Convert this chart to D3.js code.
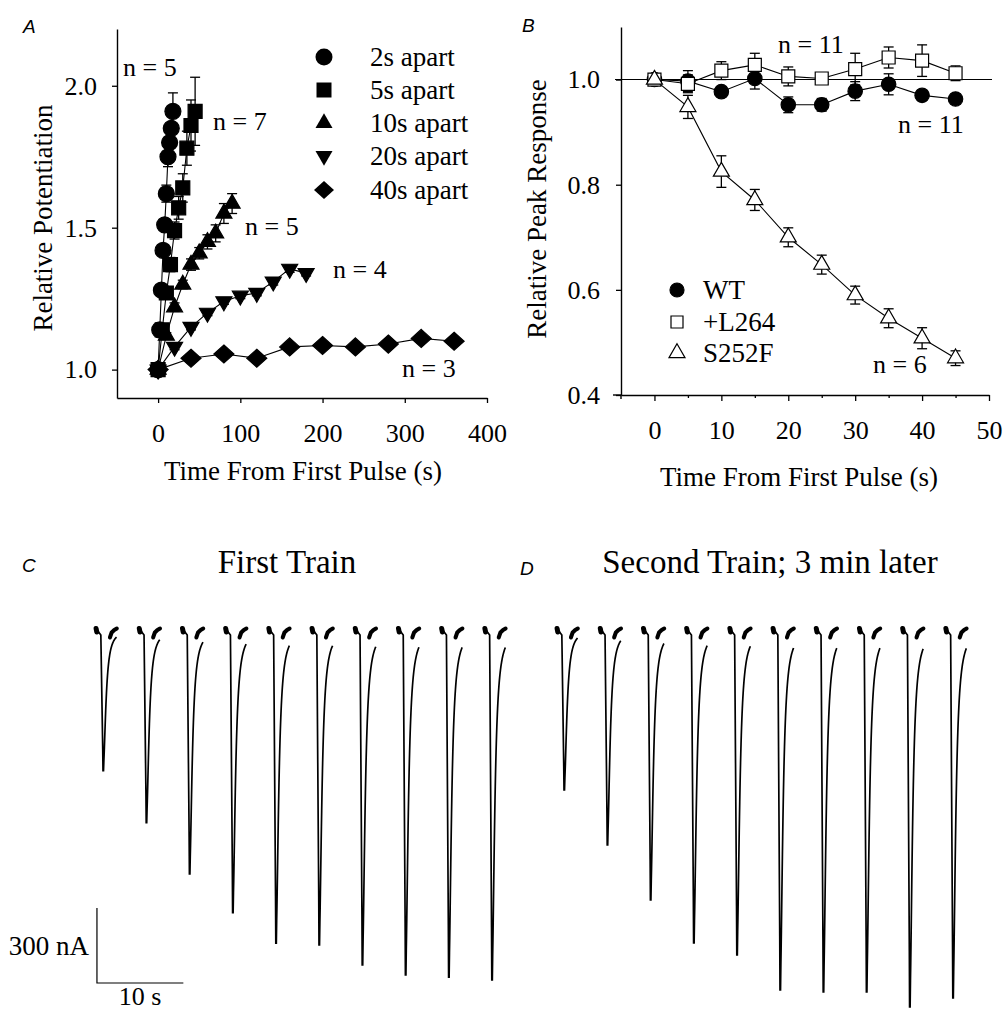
<!DOCTYPE html>
<html><head><meta charset="utf-8">
<script src="https://cdn.jsdelivr.net/npm/d3@7"></script>
<style>
html,body{margin:0;padding:0;background:#fff;}
svg{display:block;}
text{font-family:"Liberation Serif","Times New Roman",serif;fill:#000;}
text.lett{font-family:"Liberation Sans",Arial,sans-serif;font-style:italic;}
</style></head><body>
<svg id="fig" width="1003" height="1011"></svg>
<script>
// ---------------- DATA ----------------
// Panel A: relative potentiation vs time from first pulse
const aLabels = ["2s apart", "5s apart", "10s apart", "20s apart", "40s apart"];
const a2Time  = [0, 2, 4, 6, 8, 10, 12, 14, 16, 18];
const a2Val   = [1.0, 1.14, 1.28, 1.42, 1.51, 1.62, 1.75, 1.80, 1.85, 1.91];
const a2Err   = [0, 0.01, 0.015, 0.02, 0.02, 0.03, 0.035, 0.04, 0.045, 0.065];
const a5Time  = [0, 5, 10, 15, 20, 25, 30, 35, 40, 45];
const a5Val   = [1.0, 1.14, 1.27, 1.37, 1.49, 1.57, 1.64, 1.78, 1.86, 1.91];
const a5Err   = [0, 0.015, 0.02, 0.025, 0.03, 0.04, 0.05, 0.06, 0.09, 0.12];
const a10Time = [0, 10, 20, 30, 40, 50, 60, 70, 80, 90];
const a10Val  = [1.0, 1.12, 1.22, 1.30, 1.37, 1.41, 1.45, 1.48, 1.55, 1.585];
const a10Err  = [0, 0.01, 0.015, 0.015, 0.02, 0.02, 0.025, 0.03, 0.035, 0.035];
const a20Time = [0, 20, 40, 60, 80, 100, 120, 140, 160, 180];
const a20Val  = [1.0, 1.08, 1.15, 1.20, 1.24, 1.26, 1.27, 1.31, 1.355, 1.34];
const a20Err  = [0, 0.01, 0.01, 0.01, 0.01, 0.01, 0.01, 0.012, 0.012, 0.01];
const a40Time = [0, 40, 80, 120, 160, 200, 240, 280, 320, 360];
const a40Val  = [1.0, 1.04, 1.055, 1.04, 1.08, 1.085, 1.08, 1.09, 1.11, 1.10];
const a40Err  = [0, 0.005, 0.005, 0.005, 0.006, 0.006, 0.006, 0.006, 0.007, 0.006];
const aNLabels = ["n = 5", "n = 7", "n = 5", "n = 4", "n = 3"];
const aXTicks = [0, 100, 200, 300, 400];
const aYTicks = [1.0, 1.5, 2.0];

// Panel B: relative peak response
const bLabels = ["WT", "+L264", "S252F"];
const bTime   = [0, 5, 10, 15, 20, 25, 30, 35, 40, 45];
const bWT     = [1.0, 0.997, 0.977, 1.002, 0.952, 0.952, 0.978, 0.991, 0.970, 0.963];
const bWTErr  = [0, 0.02, 0.01, 0.02, 0.015, 0.012, 0.018, 0.02, 0.01, 0.01];
const bL264   = [1.0, 0.992, 1.017, 1.028, 1.006, 1.002, 1.02, 1.042, 1.036, 1.012];
const bL264Err= [0, 0.017, 0.017, 0.022, 0.018, 0.01, 0.03, 0.02, 0.03, 0.014];
const bS252F  = [1.0, 0.948, 0.825, 0.771, 0.700, 0.648, 0.590, 0.546, 0.508, 0.470];
const bS252FErr=[0, 0.022, 0.03, 0.02, 0.018, 0.018, 0.017, 0.018, 0.02, 0.014];
const bNLabels = ["n = 11", "n = 11", "n = 6"];
const bXTicks = [0, 5, 10, 15, 20, 25, 30, 35, 40, 45, 50];
const bYTicks = [0.4, 0.6, 0.8, 1.0];

// Panels C, D: current traces (peak inward current, nA) of pulses 5 s apart
const trainTitles = ["First Train", "Second Train; 3 min later"];
const pulseTime  = [0, 5, 10, 15, 20, 25, 30, 35, 40, 45];
const train1Peak = [563, 771, 976, 1131, 1253, 1260, 1340, 1380, 1389, 1400];
const train2Peak = [640, 860, 1080, 1252, 1300, 1440, 1448, 1448, 1508, 1472];
const scaleBarCurrent = 300; // nA
const scaleBarTime = 10;     // s

// ---------------- DRAWING ----------------
const svg = d3.select("#fig");
svg.append("rect").attr("width", 1003).attr("height", 1011).attr("fill", "#fff");

function text(g, x, y, s, size, anchor, extra) {
  const t = g.append("text").attr("x", x).attr("y", y).attr("font-size", size)
    .attr("text-anchor", anchor || "start").text(s);
  if (extra) extra(t);
  return t;
}
function letter(x, y, s) {
  svg.append("text").attr("class", "lett").attr("x", x).attr("y", y).attr("font-size", 19).text(s);
}

// symbol paths
const sym = {
  circle: r => d3.symbol(d3.symbolCircle, Math.PI * r * r)(),
  square: s => d3.symbol(d3.symbolSquare, s * s)(),
  triUp: s => { const h = s * Math.sqrt(3) / 2; return `M0,${-2*h/3}L${s/2},${h/3}L${-s/2},${h/3}Z`; },
  triDown: s => { const h = s * Math.sqrt(3) / 2; return `M0,${2*h/3}L${s/2},${-h/3}L${-s/2},${-h/3}Z`; },
  diamond: (w, h) => `M0,${-h/2}L${w/2},0L0,${h/2}L${-w/2},0Z`
};

function styleAxis(g, size) {
  g.attr("font-size", size);
  g.selectAll("path.domain").attr("stroke", "#000").attr("stroke-width", 1.4);
  g.selectAll(".tick line").attr("stroke", "#000").attr("stroke-width", 1.3);
  g.selectAll(".tick text").attr("fill", "#000");
}

function drawSeries(g, x, y, times, vals, errs, path, fill, capW) {
  const pts = times.map((t, i) => ({ t, v: vals[i], e: errs[i] }));
  g.append("path").datum(pts).attr("fill", "none").attr("stroke", "#000").attr("stroke-width", 1.1)
    .attr("d", d3.line().x(d => x(d.t)).y(d => y(d.v)));
  const eb = g.append("g").attr("stroke", "#000").attr("stroke-width", 1.3);
  pts.filter(d => d.e > 0).forEach(d => {
    eb.append("line").attr("x1", x(d.t)).attr("x2", x(d.t)).attr("y1", y(d.v - d.e)).attr("y2", y(d.v + d.e));
    [d.v - d.e, d.v + d.e].forEach(v => eb.append("line").attr("x1", x(d.t) - capW / 2).attr("x2", x(d.t) + capW / 2)
      .attr("y1", y(v)).attr("y2", y(v)));
  });
  g.selectAll(null).data(pts).enter().append("path")
    .attr("transform", d => `translate(${x(d.t)},${y(d.v)})`)
    .attr("d", path).attr("fill", fill).attr("stroke", "#000").attr("stroke-width", 1.2);
}

// ---------- Panel A ----------
{
  const g = svg.append("g");
  const x = d3.scaleLinear().domain([-50, 400]).range([117, 487]);
  const y = d3.scaleLinear().domain([0.9, 2.2]).range([398, 29]);
  const xa = g.append("g").attr("transform", "translate(0,398)")
    .call(d3.axisBottom(x).tickValues(aXTicks).tickSize(5).tickSizeOuter(0).tickPadding(21));
  styleAxis(xa, 26);
  const ya = g.append("g").attr("transform", "translate(117,0)")
    .call(d3.axisLeft(y).tickValues(aYTicks).tickFormat(d3.format(".1f")).tickSize(5).tickSizeOuter(0).tickPadding(15));
  styleAxis(ya, 26);
  text(g, 303, 480, "Time From First Pulse (s)", 27, "middle");
  text(g, 0, 0, "Relative Potentiation", 27, "middle", t => t.attr("transform", "translate(52,218) rotate(-90)"));

  drawSeries(g, x, y, a40Time, a40Val, a40Err, sym.diamond(20, 18), "#000", 10);
  drawSeries(g, x, y, a20Time, a20Val, a20Err, sym.triDown(16), "#000", 10);
  drawSeries(g, x, y, a10Time, a10Val, a10Err, sym.triUp(16), "#000", 10);
  drawSeries(g, x, y, a5Time, a5Val, a5Err, sym.square(14), "#000", 10);
  drawSeries(g, x, y, a2Time, a2Val, a2Err, sym.circle(8), "#000", 10);

  // n labels
  const nPos = [[123, 76], [213, 130], [245, 235], [333, 278], [402, 377]];
  aNLabels.forEach((s, i) => text(g, nPos[i][0], nPos[i][1], s, 26));

  // legend
  const legPaths = [sym.circle(8.5), sym.square(15), sym.triUp(17), sym.triDown(17), sym.diamond(20, 18)];
  const legY = [57, 90, 123, 156, 190];
  aLabels.forEach((s, i) => {
    g.append("path").attr("transform", `translate(324,${legY[i]})`).attr("d", legPaths[i]).attr("fill", "#000");
    text(g, 370, legY[i] + 9, s, 27);
  });
  letter(23, 33, "A");
}

// ---------- Panel B ----------
{
  const g = svg.append("g");
  const x = d3.scaleLinear().domain([-5, 50]).range([621, 989]);
  const y = d3.scaleLinear().domain([0.4, 1.1]).range([395, 27]);
  g.append("line").attr("x1", 613).attr("x2", 621).attr("y1", 395).attr("y2", 395).attr("stroke", "#000").attr("stroke-width", 1.4);
  g.append("line").attr("x1", 621).attr("x2", 621).attr("y1", 395).attr("y2", 399).attr("stroke", "#000").attr("stroke-width", 1.4);
  const xa = g.append("g").attr("transform", "translate(0,395)")
    .call(d3.axisBottom(x).tickValues(bXTicks).tickFormat(d => d % 10 === 0 ? d : "").tickSize(6).tickSizeOuter(0).tickPadding(20));
  styleAxis(xa, 26);
  xa.selectAll(".tick").filter(d => d % 10 !== 0).select("line").attr("y2", 3);
  const ya = g.append("g").attr("transform", "translate(621,0)")
    .call(d3.axisLeft(y).tickValues(bYTicks).tickFormat(d3.format(".1f")).tickSize(5).tickSizeOuter(0).tickPadding(16));
  styleAxis(ya, 26);
  text(g, 799, 486, "Time From First Pulse (s)", 27, "middle");
  text(g, 0, 0, "Relative Peak Response", 27, "middle", t => t.attr("transform", "translate(546,209) rotate(-90)"));

  g.append("line").attr("x1", x(-5) - 6).attr("x2", x(50) + 3).attr("y1", y(1)).attr("y2", y(1))
    .attr("stroke", "#000").attr("stroke-width", 1.1);

  drawSeries(g, x, y, bTime, bWT, bWTErr, sym.circle(7.2), "#000", 10);
  drawSeries(g, x, y, bTime, bL264, bL264Err, sym.square(13), "#fff", 10);
  drawSeries(g, x, y, bTime, bS252F, bS252FErr, sym.triUp(16), "#fff", 10);

  const nPos = [[778, 53], [898, 133], [873, 373]];
  bNLabels.forEach((s, i) => text(g, nPos[i][0], nPos[i][1], s, 26));

  const legPaths = [[sym.circle(7), "#000"], [sym.square(12), "#fff"], [sym.triUp(16), "#fff"]];
  const legY = [290, 322, 353];
  bLabels.forEach((s, i) => {
    g.append("path").attr("transform", `translate(677,${legY[i]})`).attr("d", legPaths[i][0])
      .attr("fill", legPaths[i][1]).attr("stroke", "#000").attr("stroke-width", 1.2);
    text(g, 703, legY[i] + 9, s, 27);
  });
  letter(522, 32, "B");
}

// ---------- Panels C & D: traces ----------
function drawTrain(x0, peaks, title, titleX, withScale) {
  const g = svg.append("g");
  const x = d3.scaleLinear().domain([0, 10]).range([x0, x0 + 86.4]);     // s -> px
  const y = d3.scaleLinear().domain([0, -300]).range([630, 705]);        // nA -> px
  const line = d3.line().x(d => x(d[0])).y(d => y(d[1]));
  pulseTime.forEach((t0, i) => {
    const A = peaks[i];
    // pre-pulse baseline blob
    g.append("path").attr("d", line([[t0 - 0.8, 6], [t0 - 0.72, -8]]))
      .attr("stroke", "#000").attr("stroke-width", 5).attr("stroke-linecap", "round").attr("fill", "none");
    // spike and recovery
    const pts = [[t0 - 0.6, -4], [t0 - 0.25, -20], [t0 - 0.03, -A * 0.85], [t0, -A], [t0 + 0.06, -A]];
    for (let tp = 0.1; tp <= 1.6; tp += 0.03) pts.push([t0 + tp, -A / (1 + Math.pow(tp / 0.36, 2))]);
    g.append("path").attr("d", line(pts)).attr("stroke", "#000").attr("stroke-width", 1.7).attr("fill", "none");
    // post-pulse baseline blob
    g.append("path").attr("d", line([[t0 + 0.8, -30], [t0 + 1.0, -10], [t0 + 1.3, 0], [t0 + 1.6, 6]]))
      .attr("stroke", "#000").attr("stroke-width", 4).attr("stroke-linecap", "round").attr("stroke-linejoin", "round").attr("fill", "none");
  });
  text(g, titleX, 573, title, 33, "middle");
  if (withScale) {
    const tb = -0.7, ib = -1412;
    g.append("path").attr("d", line([[tb, ib + scaleBarCurrent], [tb, ib], [tb + scaleBarTime, ib]]))
      .attr("stroke", "#000").attr("stroke-width", 1.2).attr("fill", "none");
    text(g, x(tb) - 8, y(ib + scaleBarCurrent / 2) + 9, scaleBarCurrent + " nA", 27, "end");
    text(g, x(tb + scaleBarTime / 2), 1005, scaleBarTime + " s", 26, "middle");
  }
}
drawTrain(103, train1Peak, trainTitles[0], 287, true);
drawTrain(564, train2Peak, trainTitles[1], 770, false);
letter(22, 572, "C");
letter(520, 575, "D");
</script></body></html>
